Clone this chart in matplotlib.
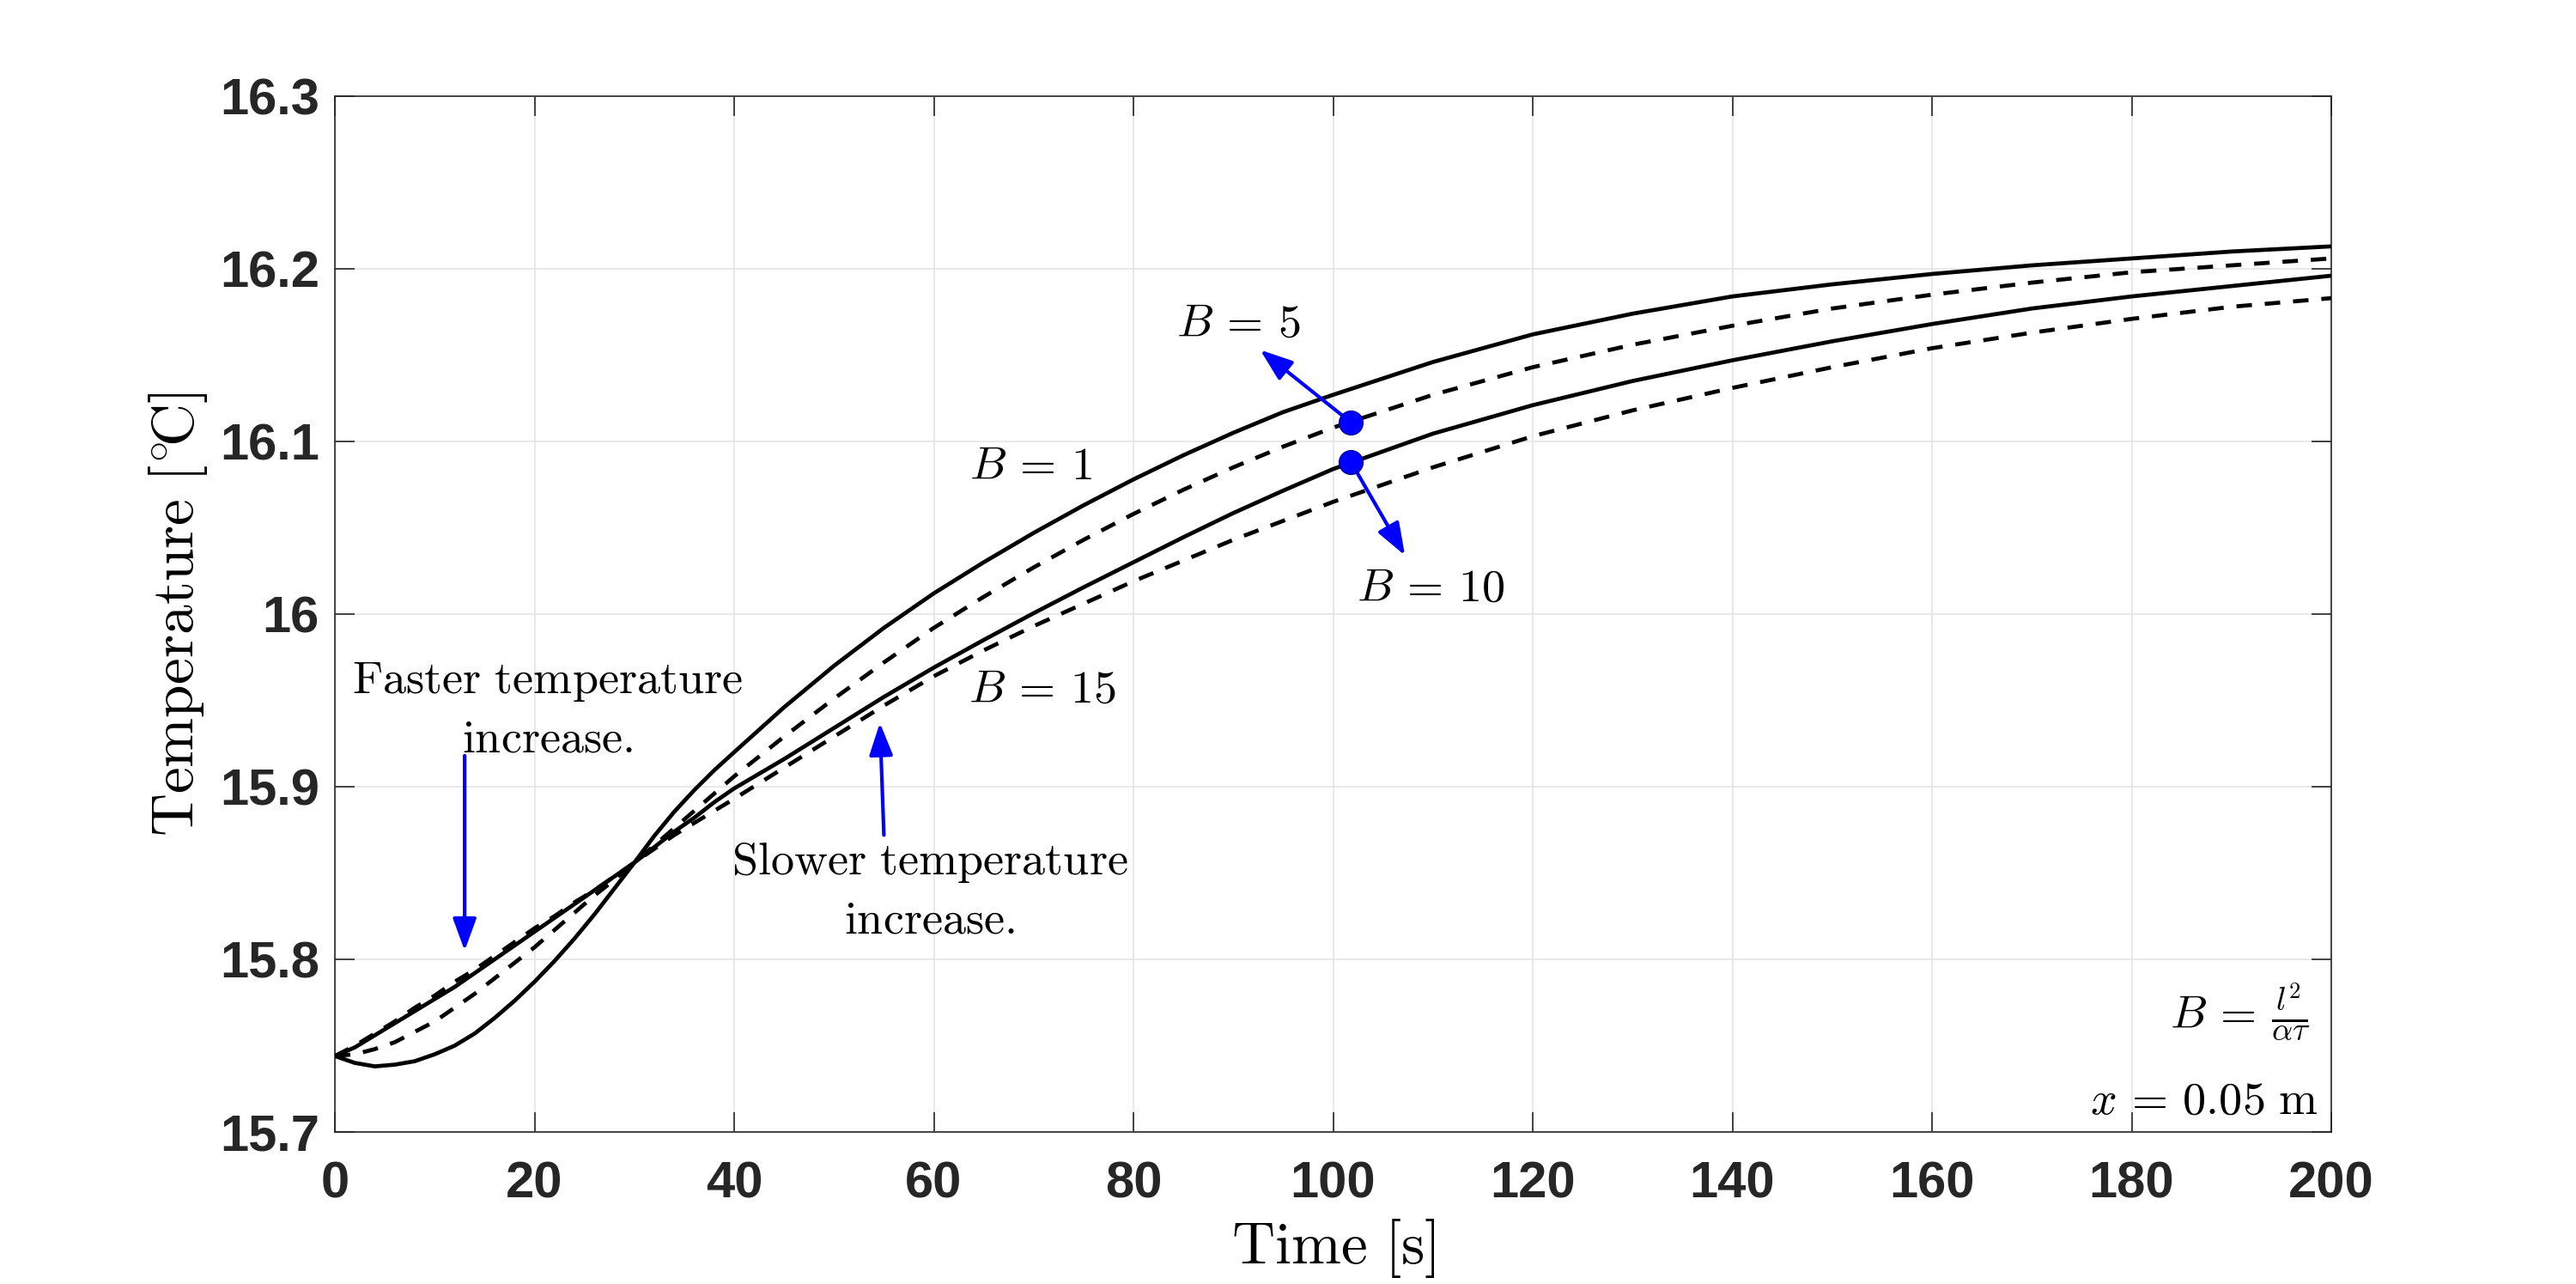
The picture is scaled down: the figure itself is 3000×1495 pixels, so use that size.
import numpy as np
import matplotlib
matplotlib.use("Agg")
import matplotlib.pyplot as plt
from matplotlib.patches import ArrowStyle

plt.rcParams['mathtext.fontset'] = 'cm'
plt.rcParams['lines.scale_dashes'] = False

# time axis [s]
time = [0, 2, 4, 6, 8, 10, 12, 14, 16, 18, 20, 22, 24, 26, 28, 30, 32, 34, 36, 38, 40,
        45, 50, 55, 60, 65, 70, 75, 80, 85, 90, 95, 100,
        110, 120, 130, 140, 150, 160, 170, 180, 190, 200]

# temperature at x = 0.05 m for each B value
temp_b1 = [15.744, 15.740, 15.738, 15.739, 15.741, 15.745, 15.750, 15.757, 15.766, 15.776,
           15.787, 15.799, 15.812, 15.826, 15.841, 15.856, 15.8715, 15.8855, 15.898, 15.9095, 15.920,
           15.946, 15.970, 15.992, 16.012, 16.030, 16.047, 16.063, 16.078, 16.092, 16.105, 16.117, 16.127,
           16.146, 16.162, 16.174, 16.184, 16.191, 16.197, 16.202, 16.206, 16.210, 16.213]
temp_b5 = [15.744, 15.745, 15.748, 15.752, 15.758, 15.764, 15.772, 15.780, 15.789, 15.798,
           15.807, 15.817, 15.827, 15.837, 15.846, 15.856, 15.866, 15.876, 15.886, 15.896, 15.906,
           15.929, 15.951, 15.972, 15.992, 16.010, 16.027, 16.043, 16.058, 16.072, 16.085, 16.097, 16.108,
           16.127, 16.143, 16.156, 16.167, 16.177, 16.185, 16.192, 16.198, 16.202, 16.206]
temp_b10 = [15.744, 15.749, 15.756, 15.763, 15.770, 15.777, 15.784, 15.792, 15.800, 15.808,
            15.816, 15.824, 15.832, 15.840, 15.848, 15.856, 15.865, 15.874, 15.882, 15.891, 15.899,
            15.916, 15.934, 15.952, 15.969, 15.985, 16.0005, 16.0155, 16.030, 16.0445, 16.0585, 16.0715, 16.084,
            16.1045, 16.121, 16.135, 16.147, 16.158, 16.168, 16.177, 16.184, 16.190, 16.196]
temp_b15 = [15.744, 15.750, 15.757, 15.764, 15.772, 15.779, 15.787, 15.794, 15.802, 15.810,
            15.818, 15.825, 15.833, 15.840, 15.848, 15.856, 15.864, 15.872, 15.879, 15.886, 15.893,
            15.911, 15.929, 15.947, 15.964, 15.979, 15.993, 16.006, 16.019, 16.031, 16.043, 16.054, 16.065,
            16.085, 16.103, 16.118, 16.131, 16.143, 16.154, 16.163, 16.171, 16.178, 16.183]

# highlighted points on B=5 and B=10 curves
mark_t = [101.8, 101.8]
mark_temp = [16.111, 16.088]

xticks = [0, 20, 40, 60, 80, 100, 120, 140, 160, 180, 200]
yticks = [15.7, 15.8, 15.9, 16.0, 16.1, 16.2, 16.3]
ytick_labels = ['15.7', '15.8', '15.9', '16', '16.1', '16.2', '16.3']

fig = plt.figure(figsize=(15, 7.475), dpi=200)
ax = fig.add_axes([0.13, 0.1184, 0.775, 0.8067])

dash = (6.5, 5.4)
ax.plot(time, temp_b1, color='black', lw=1.7, zorder=3)
ax.plot(time, temp_b5, color='black', lw=1.7, dashes=dash, zorder=3)
ax.plot(time, temp_b10, color='black', lw=1.7, zorder=3)
ax.plot(time, temp_b15, color='black', lw=1.7, dashes=dash, zorder=3)

ax.set_xlim(0, 200)
ax.set_ylim(15.7, 16.3)
ax.set_xticks(xticks)
ax.set_yticks(yticks)
ax.set_yticklabels(ytick_labels)

ax.grid(True, color='#e3e3e3', lw=0.55, zorder=0)
ax.set_axisbelow(True)
for s in ax.spines.values():
    s.set_color('#262626')
    s.set_linewidth(0.6)
ax.tick_params(direction='in', length=8.3, width=0.6, color='#262626',
               top=True, right=True, labelcolor='#262626')
ax.tick_params(axis='x', pad=12)
ax.tick_params(axis='y', pad=6.5)
for lab in ax.get_xticklabels() + ax.get_yticklabels():
    lab.set_fontfamily('Liberation Sans')
    lab.set_fontweight('bold')
    lab.set_fontsize(21.5)

ax.set_xlabel(r'$\mathrm{Time\ [s]}$', fontsize=25, va='baseline')
ax.xaxis.set_label_coords(0.5, -0.127)
ax.set_ylabel(r'$\mathrm{Temperature}\ [{}^{\circ}\!\mathrm{C}]$', fontsize=25, va='center')
ax.yaxis.set_label_coords(-0.0787, 0.5)

fs = 19.5
arrow_kw = dict(arrowstyle=ArrowStyle('-|>', head_length=11.5, head_width=4.2),
                color='blue', lw=1.5, shrinkA=0, shrinkB=0, mutation_scale=1)

# curve labels
ax.text(63.6, 16.078, r'$B\,=\,1$', fontsize=fs, ha='left', va='baseline')
ax.text(84.3, 16.161, r'$B\,=\,5$', fontsize=fs, ha='left', va='baseline')
ax.text(102.4, 16.0075, r'$B\,=\,10$', fontsize=fs, ha='left', va='baseline')
ax.text(63.5, 15.949, r'$B\,=\,15$', fontsize=fs, ha='left', va='baseline')

# arrows from the marked points
ax.annotate('', xy=(92.7, 16.153), xytext=(mark_t[0], mark_temp[0]), arrowprops=arrow_kw, zorder=4)
ax.annotate('', xy=(107.2, 16.034), xytext=(mark_t[1], mark_temp[1]), arrowprops=arrow_kw, zorder=4)
ax.plot(mark_t, mark_temp, 'o', color='blue', ms=10, mec='#0000a0', mew=0.5, zorder=5)

# faster / slower notes
ax.text(21.3, 15.954, r'$\mathrm{Faster\ temperature}$', fontsize=fs, ha='center', va='baseline')
ax.text(21.3, 15.920, r'$\mathrm{increase.}$', fontsize=fs, ha='center', va='baseline')
ax.annotate('', xy=(13.0, 15.805), xytext=(13.0, 15.918), arrowprops=arrow_kw, zorder=4)

ax.text(59.6, 15.849, r'$\mathrm{Slower\ temperature}$', fontsize=fs, ha='center', va='baseline')
ax.text(59.6, 15.815, r'$\mathrm{increase.}$', fontsize=fs, ha='center', va='baseline')
ax.annotate('', xy=(54.6, 15.937), xytext=(55.0, 15.872), arrowprops=arrow_kw, zorder=4)

ax.text(0.9897, 0.116, r'$B\,=\,\frac{l^2}{\alpha\tau}$', fontsize=fs, ha='right', va='center',
        transform=ax.transAxes)
ax.text(0.9935, 0.018, r'$x\,=\,0.05\ \mathrm{m}$', fontsize=fs, ha='right', va='baseline',
        transform=ax.transAxes)

fig.savefig('out.png', dpi=200)
